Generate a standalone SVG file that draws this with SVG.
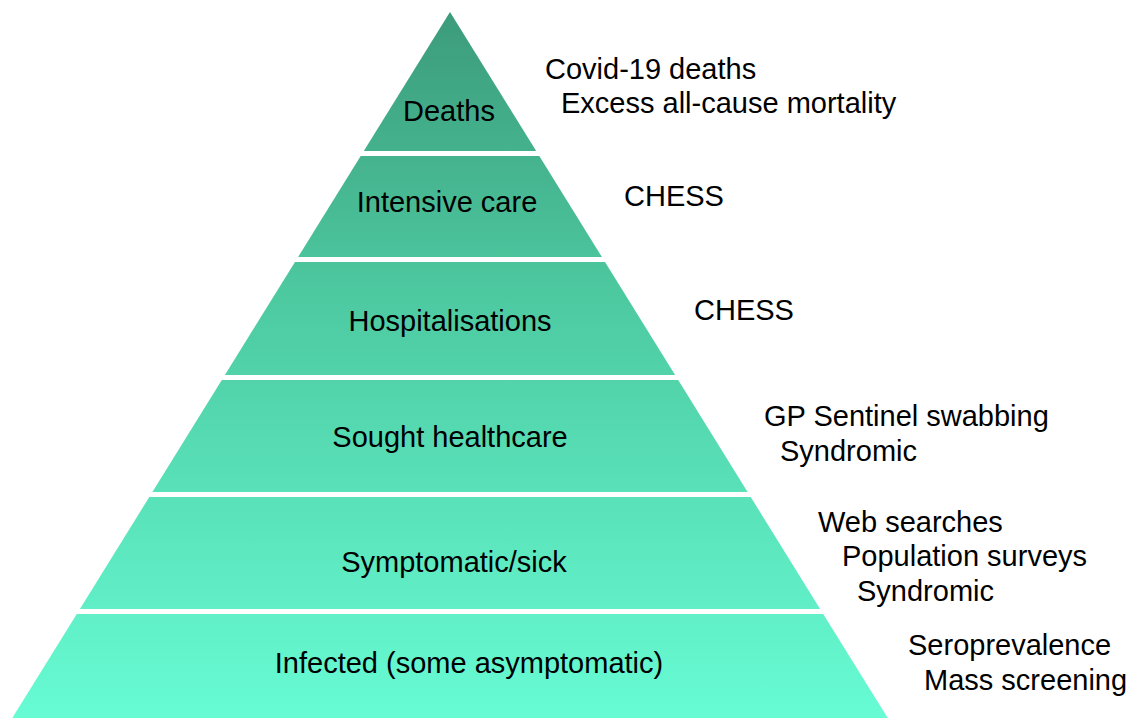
<svg xmlns="http://www.w3.org/2000/svg" width="1136" height="718" viewBox="0 0 1136 718">
  <defs>
    <linearGradient id="pyr" gradientUnits="userSpaceOnUse" x1="0" y1="12" x2="0" y2="718">
      <stop offset="0" stop-color="#3c9b7b"/>
      <stop offset="0.4" stop-color="#4dc9a0"/>
      <stop offset="1" stop-color="#67fcd4"/>
    </linearGradient>
  </defs>
  <style>
    .layer { fill: url(#pyr); }
    .lbl { font-family: "Liberation Sans", Arial, sans-serif; font-size: 29px; fill: #000; text-anchor: middle; }
    .src { font-family: "Liberation Sans", Arial, sans-serif; font-size: 29px; fill: #000; }
  </style>
  <rect width="1136" height="718" fill="#ffffff"/>
  <g id="deaths">
    <polygon class="layer" points="450,12 536.2,151 363.8,151"/>
    <text class="lbl" x="449" y="121">Deaths</text>
  </g>
  <g id="intensive-care">
    <polygon class="layer" points="360.7,156 539.3,156 601.9,257 298.1,257"/>
    <text class="lbl" x="447" y="212">Intensive care</text>
  </g>
  <g id="hospitalisations">
    <polygon class="layer" points="295,262 605,262 675.1,375 224.9,375"/>
    <text class="lbl" x="450" y="331">Hospitalisations</text>
  </g>
  <g id="sought-healthcare">
    <polygon class="layer" points="221.8,380 678.2,380 747.6,492 152.4,492"/>
    <text class="lbl" x="450" y="447">Sought healthcare</text>
  </g>
  <g id="symptomatic">
    <polygon class="layer" points="149.3,497 750.7,497 820.1,609 79.9,609"/>
    <text class="lbl" x="454" y="572">Symptomatic/sick</text>
  </g>
  <g id="infected">
    <polygon class="layer" points="76.8,614 823.2,614 889,720 11,720"/>
    <text class="lbl" x="469" y="673">Infected (some asymptomatic)</text>
  </g>
  <g id="sources">
    <text class="src" x="545" y="79">Covid-19 deaths</text>
    <text class="src" x="561" y="113">Excess all-cause mortality</text>
    <text class="src" x="624" y="206">CHESS</text>
    <text class="src" x="694" y="320">CHESS</text>
    <text class="src" x="764" y="426">GP Sentinel swabbing</text>
    <text class="src" x="780" y="461">Syndromic</text>
    <text class="src" x="818" y="532">Web searches</text>
    <text class="src" x="842" y="566">Population surveys</text>
    <text class="src" x="857" y="601">Syndromic</text>
    <text class="src" x="908" y="655">Seroprevalence</text>
    <text class="src" x="924" y="690">Mass screening</text>
  </g>
  <g id="connectors"></g>
</svg>
